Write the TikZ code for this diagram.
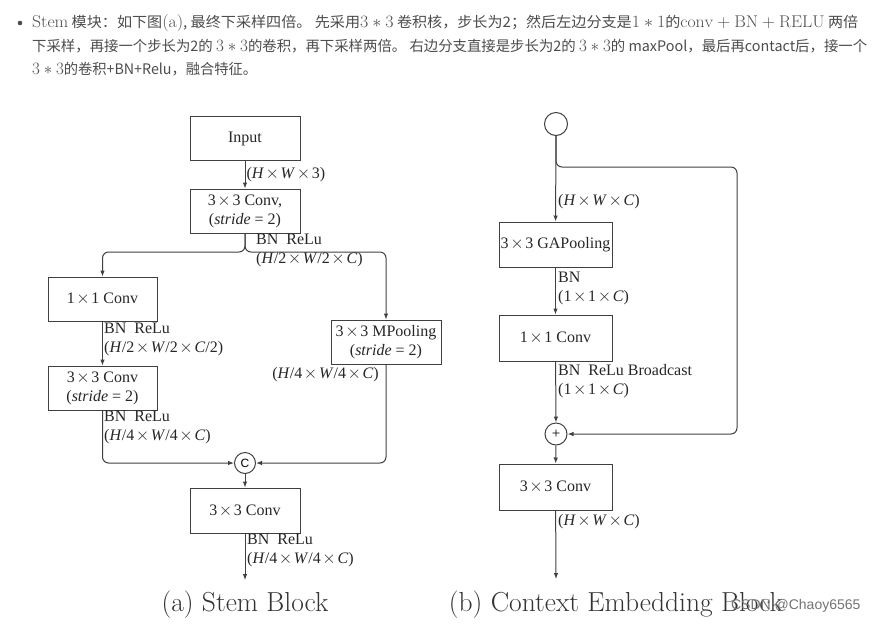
\documentclass[tikz,border=0pt]{standalone}
\usepackage{graphicx}
\usepackage{fontspec}
\newfontfamily\cjk{Noto Sans CJK SC}
\newfontfamily\tms{Liberation Serif}
\newfontfamily\arl{Liberation Sans}
\usepackage{tikz}
\usetikzlibrary{positioning,arrows.meta}

\newcommand{\tmul}{\hspace{1.6pt}$\times$\hspace{1.6pt}}
\newcommand{\mth}[1]{{\fontsize{17}{18}\selectfont$#1$}}

\tikzset{
  blk/.style={draw=black!75, line width=1pt, minimum width=110pt, minimum height=44pt,
    align=center, inner sep=1pt, text=black!85, font=\tms\fontsize{16}{19}\selectfont},
  lbl/.style={font=\tms\fontsize{16}{19}\selectfont, text=black!85, align=left, inner sep=1pt},
  ln/.style={draw=black!75, line width=1pt},
  txtline/.style={font=\cjk\fontsize{14.5}{18}\selectfont, text=black!70, inner sep=0pt, anchor=west},
  captxt/.style={font=\fontsize{27.5}{30}\selectfont, text=black!80},
}

\begin{document}
\begin{tikzpicture}[x=1pt,y=-1pt,>={Latex[length=6pt,width=4.5pt]}]
      \useasboundingbox (0,0) rectangle (879,625);

      % text above the figure
      \fill[black!70] (20,23) circle (2.3);
      \node[txtline] (p1) at (32,23) {\resizebox{826pt}{\height}{\mth{\mathrm{Stem}} 模块：如下图\mth{(\mathrm{a})}, 最终下采样四倍。 先采用\mth{3*3} 卷积核，步长为2；然后左边分支是\mth{1*1}的\mth{\mathrm{conv}+\mathrm{BN}+\mathrm{RELU}} 两倍}};
      \node[txtline] (p2) at (32,46) {\resizebox{835pt}{\height}{下采样，再接一个步长为2的 \mth{3*3}的卷积，再下采样两倍。 右边分支直接是步长为2的 \mth{3*3}的 maxPool，最后再contact后，接一个}};
      \node[txtline] (p3) at (32,69) {\resizebox{225pt}{\height}{\mth{3*3}的卷积+BN+Relu，融合特征。}};

      % (a) stem block
      \node[blk] (input) at (245,138.5) {Input};
      \node[blk] (conv1) at (245,211) {3\tmul3 Conv,\\(\textit{stride} = 2)};
      \node[blk, minimum width=109pt] (c11) at (102.5,299) {1\tmul1 Conv};
      \node[blk, minimum width=109pt] (c33) at (102.5,388) {3\tmul3 Conv\\(\textit{stride} = 2)};
      \node[blk] (mpool) at (386,342) {3\tmul3 MPooling\\(\textit{stride} = 2)};
      \node[circle, ln, minimum size=21pt, inner sep=0pt, font=\arl\fontsize{12}{12}\selectfont] (cat) at (245,463) {C};
      \node[blk, minimum height=45pt] (conv3) at (245,510.5) {3\tmul3 Conv};
      \coordinate (splita) at (245,252);
      \coordinate (outa) at (245,580);

      \draw[ln,->] (input) -- node[lbl,right] {(\textit{H}\tmul\textit{W}\tmul3)} (conv1);
      %split
      \draw[ln,->,rounded corners=6pt] (conv1.south) -- (splita) -- (splita -| c11.north) -- (c11.north);
      \draw[ln,->,rounded corners=6pt] (conv1.south) -- (splita) -- (splita -| mpool.north) -- (mpool.north);
      \node[lbl, anchor=north west] (l1) at (255,233) {BN\ \ ReLu\\(\textit{H}/2\tmul\textit{W}/2\tmul\textit{C})};
      %left
      \draw[ln,->] (c11) -- (c33);
      \node[lbl, anchor=north west] (l2) at (103,322) {BN\ \ ReLu\\(\textit{H}/2\tmul\textit{W}/2\tmul\textit{C}/2)};
      \draw[ln,->,rounded corners=6pt] (c33.south) -- (c33.south |- cat) -- (cat.west);
      \node[lbl, anchor=north west] (l3) at (103,410) {BN\ \ ReLu\\(\textit{H}/4\tmul\textit{W}/4\tmul\textit{C})};
      %right
      \draw[ln,->,rounded corners=6pt] (mpool.south) -- (mpool.south |- cat) -- (cat.east);
      \node[lbl, anchor=north east] (l4) at (380,366) {(\textit{H}/4\tmul\textit{W}/4\tmul\textit{C})};
      %out
      \draw[ln,->] (cat) -- (conv3);
      \draw[ln,->] (conv3) -- (outa);
      \node[lbl, anchor=north west] (l5) at (246,533) {BN\ \ ReLu\\(\textit{H}/4\tmul\textit{W}/4\tmul\textit{C})};
      \node[captxt] (capa) at (245,605) {(a) Stem Block};

      % (b) context embedding block
      \node[circle, ln, minimum size=23pt, inner sep=0pt] (inb) at (556,124) {};
      \node[blk, minimum width=113pt, minimum height=45pt] (gap) at (555.5,244.5) {3\tmul3 GAPooling};
      \node[blk, minimum width=113pt, minimum height=46pt] (c11b) at (555.5,338) {1\tmul1 Conv};
      \node[circle, ln, minimum size=22pt, inner sep=0pt, font=\tms\fontsize{15}{15}\selectfont] (plus) at (556,434) {+};
      \node[blk, minimum width=113pt, minimum height=46pt] (c3b) at (555.5,487) {3\tmul3 Conv};
      \coordinate (splitb) at (556,167);
      \coordinate (turnb) at (737,167);
      \coordinate (outb) at (556,579);

      \draw[ln,->] (inb) -- (gap);
      \draw[ln,->,rounded corners=6pt] (inb.south) -- (splitb) -- (turnb) -- (turnb |- plus) -- (plus.east);
      \node[lbl, anchor=west] (l6) at (557,202) {(\textit{H}\tmul\textit{W}\tmul\textit{C})};
      \draw[ln,->] (gap) -- (c11b);
      \node[lbl, anchor=north west] (l7) at (557,271) {BN\\(1\tmul1\tmul\textit{C})};
      \draw[ln,->] (c11b) -- (plus);
      \node[lbl, anchor=north west] (l8) at (557,363) {BN\ \ ReLu Broadcast\\(1\tmul1\tmul\textit{C})};
      \draw[ln,->] (plus) -- (c3b);
      \draw[ln,->] (c3b) -- (outb);
      \node[lbl, anchor=west] (l9) at (557,522) {(\textit{H}\tmul\textit{W}\tmul\textit{C})};
      \node[captxt] (capb) at (616,605) {(b) Context Embedding Block};

      \node[font=\arl\fontsize{14}{14}\selectfont, text=black!55, anchor=east] (wm) at (864,606) {CSDN @Chaoy6565};
\end{tikzpicture}
\end{document}
